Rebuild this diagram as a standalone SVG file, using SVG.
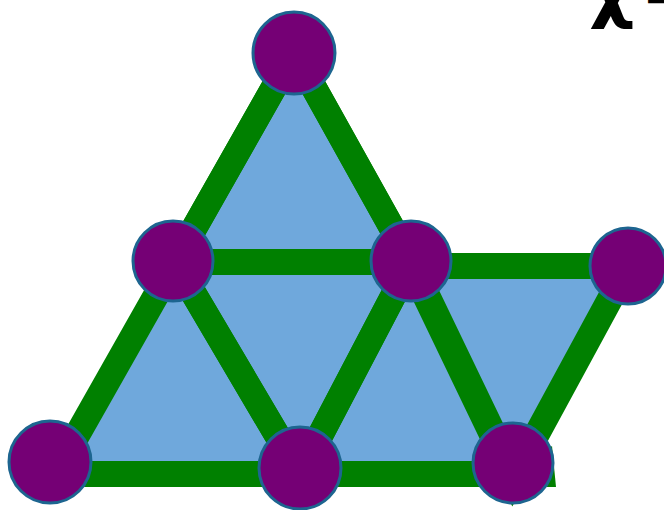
<svg xmlns="http://www.w3.org/2000/svg" width="664" height="510" viewBox="0 0 664 510">
<style>
.edge{fill:none;stroke:#008000;stroke-width:26;stroke-linejoin:miter;stroke-miterlimit:10}
.node{fill:#750075;stroke:#1d6590;stroke-width:3}
.lbl{font-family:"DejaVu Sans",sans-serif;fill:#000;font-weight:bold}
</style>
<rect width="664" height="510" fill="#fff"/>
<g id="faces">
<polygon points="294,52 411,262 411,266 628,266 513,474 55,474" fill="#6fa8dc"/>
</g>
<g id="connectors">
<polygon class="edge" points="294,52 175,262 411,262"/>
<polygon class="edge" points="294,52 411,262 175,262"/>
<polygon class="edge" points="175,262 55,474 300,474"/>
<polygon class="edge" points="175,262 300,474 411,262"/>
<polygon class="edge" points="411,262 300,474 513,474"/>
<polygon class="edge" points="411,266 628,266 513,478"/>
<polygon points="535,460 552,446 556,487 530,487" fill="#008000"/>
</g>
<g id="n-top"><circle class="node" cx="294" cy="53" r="41"/></g>
<g id="n-midleft"><circle class="node" cx="173" cy="261" r="40"/></g>
<g id="n-midcenter"><circle class="node" cx="411" cy="261" r="40"/></g>
<g id="n-right"><circle class="node" cx="628" cy="266" r="38"/></g>
<g id="n-botleft"><circle class="node" cx="50" cy="462" r="41"/></g>
<g id="n-botcenter"><circle class="node" cx="300" cy="468" r="41"/></g>
<g id="n-botright"><circle class="node" cx="513" cy="463" r="40"/></g>
<g id="label">
<text class="lbl" x="589" y="15" font-size="70">χ<tspan font-size="40" font-weight="normal" x="644" y="14">−</tspan></text>
</g>
</svg>
